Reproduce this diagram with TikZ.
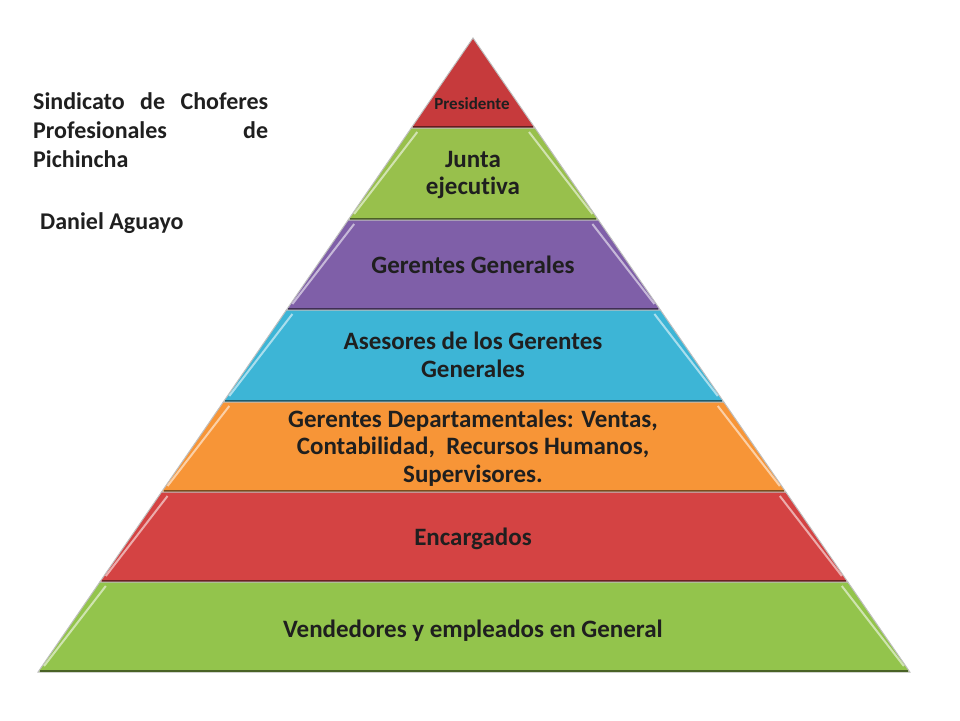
\documentclass[tikz,border=0pt]{standalone}
\usepackage{fontspec}
\setmainfont{Carlito}[Ligatures={NoCommon}]
\usetikzlibrary{calc}
\definecolor{cred}{HTML}{C63A3C}
\definecolor{cgreen}{HTML}{98C04C}
\definecolor{cpurple}{HTML}{7F5FA8}
\definecolor{ccyan}{HTML}{3DB5D6}
\definecolor{corange}{HTML}{F79537}
\definecolor{cred2}{HTML}{D44343}
\definecolor{cgreen2}{HTML}{93C44C}
\definecolor{txt}{HTML}{1F1F1F}
\tikzset{lbl/.style={font=\bfseries\fontsize{25}{27.5}\selectfont, text=txt, align=center},
 edge/.style={draw=black!25, line width=1pt}}
\newcommand{\layer}[4]{%
 \path[fill=#3, edge] ({473-0.686*(#1-38)},#1) -- ({473+0.689*(#1-38)},#1) -- ({473+0.689*(#2-38)},#2) -- ({473-0.686*(#2-38)},#2) -- cycle;
 \draw[white!70!#3, line width=2pt, opacity=0.8] ({473-0.686*(#1-38)+6},{#1+4}) -- ({473-0.686*(#2-38)+6},{#2-6});
 \draw[white!70!#3, line width=2pt, opacity=0.8] ({473+0.689*(#1-38)-6},{#1+4}) -- ({473+0.689*(#2-38)-6},{#2-6});
 \draw[black!50!#3, line width=1.5pt] ({473-0.686*(#2-38)+2},{#2-1}) -- ({473+0.689*(#2-38)-2},{#2-1});
}
\begin{document}
\begin{tikzpicture}[x=1pt,y=-1pt]
\useasboundingbox (0,0) rectangle (960,720);
\path[fill=cred, edge] (473,38) -- ({473+0.689*(128-38)},128) -- ({473-0.686*(128-38)},128) -- cycle;
\draw[black!50!cred, line width=1.5pt] ({473-0.686*90+2},127) -- ({473+0.689*90-2},127);
\layer{128}{220}{cgreen}{}
\layer{220}{310}{cpurple}{}
\layer{310}{402}{ccyan}{}
\layer{402}{492}{corange}{}
\layer{492}{582}{cred2}{}
\layer{582}{672}{cgreen2}{}
\node[lbl, font=\bfseries\fontsize{17}{20}\selectfont] (p) at (472,104) {Presidente};
\node[lbl] (j) at (473,175) {Junta\\ejecutiva};
\node[lbl] (g) at (473,265) {Gerentes Generales};
\node[lbl] (a) at (473,355) {Asesores de los Gerentes\\Generales};
\node[lbl] (d) at (473,448) {Gerentes Departamentales: Ventas,\\Contabilidad,\ \ Recursos Humanos,\\Supervisores.};
\node[lbl] (e) at (473,539) {Encargados};
\node[lbl] (v) at (473,631) {Vendedores y empleados en General};
\node[lbl, align=justify, text width=235pt, anchor=north west, inner sep=0pt, font=\bfseries\fontsize{24}{29}\selectfont] (s) at (33,92) {\hyphenpenalty=10000 Sindicato de Choferes\linebreak Profesionales de\linebreak Pichincha};
\node[lbl, anchor=west, inner sep=0pt, font=\bfseries\fontsize{24}{29}\selectfont] (n) at (40,223) {Daniel Aguayo};
\end{tikzpicture}
\end{document}
